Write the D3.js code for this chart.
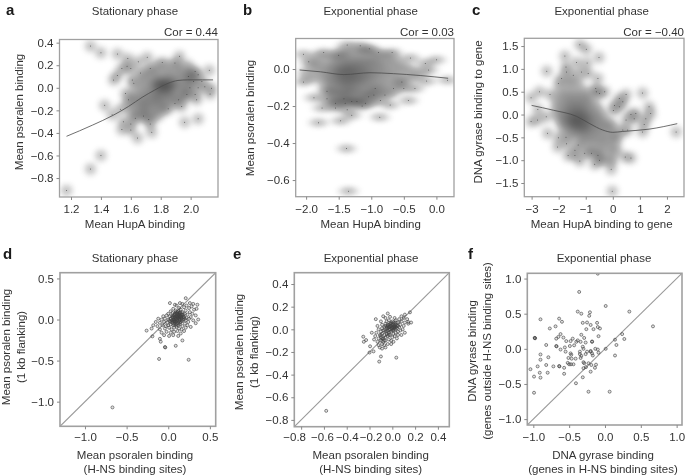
<!DOCTYPE html>
<html lang="en">
<head>
<meta charset="UTF-8">
<title>Psoralen, HupA and gyrase binding</title>
<script src="https://d3js.org/d3.v7.min.js"></script>
<style>
  body { margin: 0; background: #fff; }
  svg { filter: blur(0.3px); }
  text { font-family: "Liberation Sans", Arial, sans-serif; font-size: 11.5px; fill: #333; }
  .letter { font-weight: bold; font-size: 15px; fill: #1a1a1a; }
</style>
</head>
<body>
<svg width="685" height="475"></svg>
<script>
// panel a: sparse points (drawn with a dot) and dense rows [y, xs]
const aOuter = [[1.33,.37],[1.40,.31],[1.51,.30],[1.58,.26],[1.71,.27],[1.925,.28],[2.125,.155],[1.51,.11],[1.485,.07],[1.425,-.155],[1.40,-.60],[1.33,-.72],[1.17,-.91],[1.96,-.305],[2.05,-.275],[1.645,-.445],[1.74,-.395],[1.54,-.37],[1.60,-.375],
  [1.575,.19],[1.54,.17],[1.60,.17],[1.665,.13],[1.61,.07],[1.62,.04],[1.585,-.105],[1.55,-.30],[1.475,-.24],[1.53,-.19],[1.65,.23],[1.73,.17],[1.81,.225],[1.895,.22],[2.03,.145],[2.05,.115],[2.075,.055],[2.095,.01],[2.14,-.005],[2.13,-.055],[2.03,-.06],[1.995,0],[2.04,-.105],[1.895,-.14],[1.85,-.185],[1.94,-.165],[1.63,-.27],[1.685,-.25],[1.72,-.28],[1.73,-.32],[1.60,-.32],[1.565,-.05],[1.985,.10],[2.02,.055],[2.05,0],[1.975,-.06],[1.92,-.105]];
const aRows = [[.2,[1.78,1.85,1.92,1.98]],[.15,[1.72,1.78,1.84,1.9,1.95,2.0]],[.1,[1.68,1.74,1.79,1.84,1.88,1.93,1.98,2.02]],[.05,[1.68,1.73,1.77,1.8,1.83,1.86,1.9,1.94,1.99]],[.03,[1.78,1.81,1.84,1.87]],[0,[1.66,1.72,1.76,1.79,1.81,1.83,1.85,1.88,1.92,1.96]],[-.05,[1.62,1.68,1.72,1.76,1.79,1.82,1.85,1.88,1.93,1.98]],[-.1,[1.62,1.66,1.7,1.74,1.77,1.8,1.84,1.88,1.95]],[-.15,[1.58,1.64,1.68,1.71,1.75,1.79,1.83]],[-.2,[1.6,1.65,1.69,1.73,1.78,1.82]],[-.25,[1.62,1.68,1.74,1.78]]];
const aCurve = [[1.17,-.43],[1.345,-.33],[1.48,-.245],[1.585,-.165],[1.675,-.085],[1.76,-.02],[1.85,.04],[1.915,.065],[1.98,.07],[2.08,.07],[2.15,.07]];
const aTicksX = [1.2,1.4,1.6,1.8,2.0];
const aTicksY = [.4,.2,0,-.2,-.4,-.6,-.8];

// panel b
const bOuter = [[-1.37,.13],[-1.17,.126],[-1.03,.11],[-2.04,.08],[-1.73,.09],[-.68,.09],[-.40,.06],[0,.05],[-.17,.03],[.17,-.06],[-2.04,-.07],[-1.81,-.29],[-1.47,-.28],[-.87,-.26],[-.71,-.195],[-.43,-.17],[-1.38,-.43],[-1.35,-.66],[-1.88,-.155],[-1.755,-.21],[-1.3,-.25],[-.15,-.065],[-.33,-.105],[-.12,-.005],[-1.96,.04],[-.89,.09],[-1.5,.075],
  [-1.68,-.16],[-1.55,-.185],[-1.4,-.185],[-1.3,-.175],[-1.22,-.175],[-1.09,-.185],[-1.04,-.15],[-.86,-.17],[-.79,-.14],[-.66,-.105],[-.53,-.07],[-.5,-.105],[-1.68,-.12],[-1.14,-.2],[-1.55,-.21],[-1.37,-.22],[-.96,-.14],[-1.42,-.16],[-.94,-.105]];
const bRows = [[.1,[-1.45,-1.3,-1.15,-1.05]],[.07,[-1.8,-1.6,-1.45,-1.3,-1.15,-1.0,-.85,-.7]],[.04,[-1.85,-1.65,-1.5,-1.4,-1.3,-1.2,-1.1,-1,-.9,-.75,-.6]],[.01,[-1.9,-1.75,-1.6,-1.5,-1.42,-1.35,-1.28,-1.2,-1.12,-1.02,-.9,-.78,-.6,-.45]],[-.02,[-2,-1.8,-1.65,-1.55,-1.48,-1.42,-1.36,-1.3,-1.24,-1.16,-1.08,-1,-.88,-.75,-.6,-.4,-.25]],[-.05,[-1.95,-1.75,-1.62,-1.52,-1.45,-1.38,-1.32,-1.25,-1.18,-1.1,-1,-.88,-.72,-.55,-.35]],[-.08,[-1.7,-1.58,-1.48,-1.4,-1.33,-1.25,-1.15,-1.05,-.9,-.75,-.55]],[-.11,[-1.65,-1.5,-1.4,-1.3,-1.2,-1.05,-.85]],[-.13,[-1.6,-1.45,-1.32,-1.15,-.95,-.7]],[-.15,[-1.55,-1.4,-1.25,-1.1]],[-.18,[-1.6,-1.48,-1.3,-1.18,-1.0]]];
const bCurve = [[-2.1,-.005],[-1.78,-.015],[-1.42,-.03],[-1.02,-.02],[-.66,-.025],[-.25,-.035],[.18,-.05]];
const bTicksX = [-2,-1.5,-1,-.5,0];
const bTicksY = [0,-.2,-.4,-.6];

// panel c
const cOuter = [[-1.22,1.53],[-.98,1.43],[-1.77,1.28],[-.51,1.25],[-.95,1.13],[-1.34,1.14],[-1.73,1.04],[-2.44,.95],[-.55,.79],[-3.02,.37],[-2.71,.5],[-2.32,.44],[-.3,.5],[-.61,.5],[1.1,.47],[.49,.44],[1.34,.17],[1.4,.02],[.67,0],[-3.02,-.15],[-2.78,-.12],[-2.77,.11],[-2.46,-.05],[-2.41,-.41],[-2.01,-.51],[-2.04,-.71],[-1.73,-.5],[-1.65,-.9],[-1.22,-1.02],[-1.4,-.9],[-.67,-1.09],[-.06,-1.2],[-.02,-1.68],[.46,-.93],[.67,-.95],[1.1,-.38],[2.34,-.38],[1.16,-.22],[.49,-.12],[.02,.09],[.24,.35],[.37,.28],
  [-1.71,.93],[-1.46,.86],[-1.16,.93],[-.91,.9],[-2.01,.68],[-1.89,.79],[-.63,.57],[-.49,.46],[.06,.2],[.24,.17],[.37,-.34],[.55,-.34],[-1.71,-.64],[-1.28,-.67],[-1.4,-.78],[-1.04,-.85],[-.79,-.85],[-.49,-1],[-.55,-.89],[1.22,-.09],[.85,.02],[.79,-.09]];
const cRows = [[.7,[-1.7,-1.5,-1.25]],[.5,[-1.95,-1.7,-1.45,-1.2,-.95]],[.35,[-2.05,-1.8,-1.6,-1.4,-1.2,-1,-.8]],[.2,[-2.1,-1.85,-1.65,-1.5,-1.35,-1.2,-1.05,-.85,-.6]],[.05,[-2.1,-1.85,-1.7,-1.55,-1.42,-1.3,-1.18,-1.05,-.9,-.7,-.45]],[-.08,[-2,-1.78,-1.62,-1.5,-1.4,-1.3,-1.2,-1.1,-.98,-.82,-.62,-.35]],[-.2,[-1.9,-1.7,-1.55,-1.45,-1.35,-1.25,-1.15,-1.02,-.9,-.72,-.5,-.25,-.05]],[-.33,[-1.8,-1.55,-1.4,-1.25,-1.12,-1,-.85,-.65,-.45,-.2,.05]],[-.48,[-1.5,-1.25,-1.05,-.85,-.65,-.42,-.2,.05,.2]],[-.63,[-1.1,-.85,-.6,-.38,-.15,.1]],[-.8,[-.85,-.55,-.3,-.05,.15]],[-1,[-.4,-.15,0]]];
const cCurve = [[-3,.2],[-2.2,.095],[-1.34,-.04],[-.85,-.2],[-.37,-.34],[0,-.39],[.37,-.37],[1.34,-.32],[2.38,-.2]];
const cTicksX = [-3,-2,-1,0,1,2];
const cTicksY = [1.5,1,.5,0,-.5,-1,-1.5];

// panel d
const dPoints = [[-.67,-1.07],[-.11,-.48],[.245,-.49],[-.04,-.335],[-.035,-.34],[.09,-.32],[.17,-.255],[-.26,-.135],[-.19,-.205],[-.1,-.235],[-.09,-.27],[.36,0],[.33,-.045],[.34,.13],[.35,.18],[.30,.19],[.21,.26],[.26,.20],[.14,.2],[.08,.18],
  [.02,.2],[.1,.17],[.17,.19],[.22,.17],[.25,.14],[.31,.12],[.28,.16],[.19,.15],[.13,.14],[.06,.13],[.03,.1],[.09,.11],[.15,.12],[.21,.11],[.26,.09],[.29,.07],[.33,.05],[0,.07],[.05,.08],[.08,.07],[.11,.09],[.14,.08],[.17,.09],[.2,.07],[.23,.06],[.27,.03],[-.06,.04],[-.02,.05],[.02,.04],[.05,.03],[.07,.05],[.09,.04],[.11,.05],[.13,.06],[.15,.04],[.17,.05],[.19,.03],[.22,.02],[.25,.01],[.3,-.01],[-.12,.01],[-.08,0],[-.04,.01],[0,0],[.03,.01],[.06,0],[.08,.02],[.1,.01],[.12,.02],[.14,0],[.16,.01],[.18,0],[.21,-.01],[.24,-.03],[-.15,-.03],[-.1,-.04],[-.05,-.03],[-.01,-.04],[.02,-.02],[.05,-.03],[.07,-.02],[.09,-.03],[.11,-.01],[.13,-.02],[.15,-.03],[.17,-.02],[.2,-.05],[.23,-.07],[-.18,-.07],[-.13,-.08],[-.07,-.07],[-.03,-.08],[0,-.07],[.03,-.06],[.06,-.07],[.08,-.06],[.1,-.05],[.12,-.07],[.14,-.06],[.17,-.08],[.21,-.1],[.27,-.09],[-.2,-.11],[-.1,-.12],[-.04,-.11],[.01,-.1],[.04,-.12],[.07,-.1],[.1,-.09],[.13,-.11],[.16,-.12],[.19,-.14],[-.08,-.16],[-.02,-.15],[.03,-.16],[.07,-.15],[.11,-.14],[.15,-.17],[-.05,-.19],[.01,-.2],[.06,-.19],[.12,-.2],
  [.08,.06],[.1,.07],[.12,.04],[.14,.03],[.06,.02],[.09,0],[.11,.03],[.13,.01],[.15,.06],[.1,-.02],[.12,-.04],[.07,.03],[.16,.03],[.18,.06],[.05,.05],[.04,-.01],[.08,-.04],[.13,.08],[.11,.07],[.09,.09],
  [.1,.04],[.12,.06],[.14,.05],[.09,.02],[.11,0],[.13,.03],[.15,.02],[.07,0],[.08,-.02],[.16,.06],[.12,.1],[.15,.09],[.05,-.01],[.03,-.03],[.06,-.05],[.1,-.07],[.14,-.04],[.16,-.01],[.18,.03],[.2,.01]];
const dTicks = [-1,-.5,0,.5];

// panel e
const ePoints = [[-.58,-.72],[.035,-.25],[-.10,-.24],[-.115,-.285],[-.195,-.15],[-.2,-.205],[-.165,-.195],[-.255,-.065],[-.25,-.11],[-.23,-.095],[-.18,-.03],[-.145,.09],[-.04,.14],[-.08,.115],[.155,.15],[.11,.13],[.08,.115],[.14,.065],[.165,.06],
  [-.06,.1],[-.02,.11],[.02,.1],[.06,.09],[.1,.1],[.13,.09],[-.1,.07],[-.05,.07],[-.03,.08],[0,.07],[.03,.08],[.05,.06],[.08,.07],[.11,.06],[.14,.05],[-.13,.03],[-.09,.04],[-.06,.05],[-.04,.04],[-.02,.05],[0,.04],[.01,.06],[.03,.04],[.05,.03],[.07,.04],[.1,.03],[-.12,0],[-.09,.01],[-.07,.02],[-.05,.01],[-.03,.02],[-.01,.03],[.01,.02],[.02,.03],[.04,.01],[.06,.02],[.09,0],[-.14,-.03],[-.1,-.02],[-.08,-.01],[-.06,-.02],[-.04,-.01],[-.02,0],[0,.01],[.01,-.01],[.03,0],[.05,-.02],[.07,-.01],[.11,-.03],[-.15,-.06],[-.11,-.05],[-.09,-.04],[-.07,-.05],[-.05,-.04],[-.03,-.03],[-.01,-.02],[.01,-.04],[.03,-.03],[.05,-.05],[.08,-.05],[-.16,-.09],[-.12,-.08],[-.1,-.07],[-.08,-.08],[-.06,-.07],[-.04,-.06],[-.02,-.05],[0,-.07],[.02,-.06],[.04,-.08],[-.13,-.11],[-.1,-.1],[-.08,-.11],[-.06,-.1],[-.03,-.09],[-.01,-.1],[.01,-.11],[-.12,-.14],[-.09,-.13],[-.07,-.14],[-.04,-.13],[-.01,-.13],[-.11,-.16],[-.09,-.17],[-.06,-.16],
  [-.02,.03],[-.01,.01],[0,.02],[.01,.04],[-.03,0],[-.04,.03],[.02,.01],[.03,.02],[-.02,.02],[0,-.01],[-.05,.02],[.02,.05],[-.01,.05],
  [-.03,.04],[-.01,.06],[-.04,.01],[.01,0],[.02,.02],[-.06,.03],[-.07,-.01],[-.05,-.02],[-.1,-.05],[-.09,-.08],[-.07,-.1],[-.03,-.05],[.03,.06],[.04,.03]];
const eTicks = [-.8,-.6,-.4,-.2,0,.2,.4];
const eLabelShift = [-7,-2,0,1,0,0,0];

// panel f
const fPoints = [[-.1,1.07],[-.36,.81],[.01,.61],[.34,.53],[.67,.32],[-.38,.53],[-.33,.50],[-.21,.52],[-.22,.47],[-.90,.42],[-.64,.43],[-.60,.385],[-.69,.32],[-.77,.29],[-.31,.37],[-.25,.375],[-.20,.34],[-.11,.37],[-.10,.31],[-.07,.29],[-.16,.28],[-.26,.28],[-.98,.155],[-.98,.155],[-.975,.15],[-.62,.21],[-.65,.17],[-.68,.145],[-.58,.16],[-.48,.11],[-.45,.145],[-.54,.11],[-.38,.12],[-.40,.10],[-.34,.10],[-.33,.20],[-.29,.155],[-.27,.09],[-.09,.18],[-.18,.10],[-.18,.105],[-.82,.055],[-.68,.04],[-.675,.035],[-.62,-.01],[-.56,.02],[-.55,-.04],[-.49,.04],[-.43,.05],[-.31,.03],[-.30,0],[-.35,-.04],[-.25,-.04],[-.20,-.03],[-.135,0],[-.10,-.01],[.01,0],[.14,.13],[.24,.21],[.27,.14],[.16,.055],[.14,-.095],[-.48,-.065],[-.47,-.085],[-.35,-.075],[-.33,-.10],[-.27,-.075],[-.20,-.04],[-.18,-.065],[-.17,-.095],[-.09,-.055],[-.90,-.08],[-.79,-.12],[-.90,-.155],[-.51,-.13],[-.465,-.14],[-.41,-.14],[-.34,-.13],[-.52,-.20],[-.50,-.22],[-.475,-.22],[-.44,-.22],[-.30,-.19],[-.29,-.205],[-.23,-.205],[-.19,-.23],[-.125,-.225],[-.30,-.275],[-.265,-.26],[-.14,-.27],[-.94,-.25],[-.82,-.23],[-.72,-.25],[-.64,-.245],[-.635,-.25],[-.57,-.27],[-1.04,-.29],[-.91,-.34],[-.80,-.34],[-.57,-.355],[-.20,-.325],[-.99,-.395],[-.90,-.41],[-.31,-.405],[-.405,-.49],[-.99,-.625],[-.23,-.61],[.065,-.61]];
const fTicks = [-1,-.5,0,.5,1];

const minus = v => d3.format(".1f")(v).replace("-", "\u2212");
const svg = d3.select("svg");

function frame(o) {
  const x = d3.scaleLinear().domain(o.xd).range([o.l, o.r]);
  const y = d3.scaleLinear().domain(o.yd).range([o.b, o.t]);
  const g = svg.append("g");
  g.append("defs").append("clipPath").attr("id", "clip" + o.id)
    .append("rect").attr("x", o.l).attr("y", o.t).attr("width", o.r - o.l).attr("height", o.b - o.t);
  return { x, y, g };
}

function dress(p, o) {
  const { x, y, g } = p;
  g.append("rect").attr("x", o.l).attr("y", o.t).attr("width", o.r - o.l).attr("height", o.b - o.t)
    .attr("fill", "none").attr("stroke", "#a0a0a0").attr("stroke-width", o.sw || 1.3);
  const xa = g.append("g").attr("transform", `translate(0,${o.b})`)
    .call(d3.axisBottom(x).tickValues(o.xt).tickSize(3).tickPadding(0).tickFormat(o.fmtX || minus));
  xa.select(".domain").remove();
  xa.selectAll("line").attr("stroke", "#888");
  xa.selectAll("text").attr("y", o.xtY - o.b).attr("dy", 0)
    .attr("dx", (d, i) => o.xtShift ? o.xtShift[i] : 0);
  const ya = g.append("g").attr("transform", `translate(${o.l},0)`)
    .call(d3.axisLeft(y).tickValues(o.yt).tickSize(3).tickPadding(3).tickFormat(o.fmtY || minus));
  ya.select(".domain").remove();
  ya.selectAll("line").attr("stroke", "#888");
  svg.append("text").attr("class", "letter").attr("x", o.lx).attr("y", o.ly).text(o.letter);
  svg.append("text").attr("x", o.tx).attr("y", o.ty).attr("text-anchor", "middle").text(o.title);
  o.xlabel.forEach((s, i) => svg.append("text").attr("x", o.xlx).attr("y", o.xly + i * 13.6).attr("text-anchor", "middle").text(s));
  o.ylabel.forEach((s, i) => svg.append("text")
    .attr("transform", `translate(${o.ylx + i * 15},${o.yly}) rotate(-90)`).attr("text-anchor", "middle").text(s));
  if (o.cor) svg.append("text").attr("x", o.r).attr("y", 36).attr("text-anchor", "end").text(o.cor);
}

function density(o, outer, rows, curve) {
  const p = frame(o);
  const core = rows.flatMap(r => r[1].map(v => [v, r[0]]));
  const f = p.g.select("defs").append("filter").attr("id", "blur" + o.id)
    .attr("filterUnits", "userSpaceOnUse").attr("x", o.l - 30).attr("y", o.t - 30)
    .attr("width", o.r - o.l + 60).attr("height", o.b - o.t + 60);
  f.append("feGaussianBlur").attr("stdDeviation", o.blur);
  // lift the faint end and flatten the dark end, the way the smoothed scatter looks
  f.append("feComponentTransfer").append("feFuncA").attr("type", "table").attr("tableValues", o.ramp);
  const clip = p.g.append("g").attr("clip-path", `url(#clip${o.id})`);
  clip.append("g").attr("filter", `url(#blur${o.id})`).selectAll("ellipse")
    .data(outer.concat(core)).join("ellipse")
    .attr("cx", d => p.x(d[0])).attr("cy", d => p.y(d[1]))
    .attr("rx", o.rx).attr("ry", o.ry).attr("fill", "#000").attr("fill-opacity", o.alpha);
  clip.append("g").selectAll("circle").data(outer).join("circle")
    .attr("cx", d => p.x(d[0])).attr("cy", d => p.y(d[1])).attr("r", 0.5).attr("fill", "#333").attr("fill-opacity", .75);
  clip.append("path").datum(curve)
    .attr("d", d3.line().x(d => p.x(d[0])).y(d => p.y(d[1])).curve(d3.curveMonotoneX))
    .attr("fill", "none").attr("stroke", "#4a4a4a").attr("stroke-width", 0.8);
  dress(p, o);
}

function scatter(o, points) {
  const p = frame(o);
  const clip = p.g.append("g").attr("clip-path", `url(#clip${o.id})`);
  clip.append("line").attr("x1", p.x(o.xd[0])).attr("y1", p.y(o.xd[0]))
    .attr("x2", p.x(o.xd[1])).attr("y2", p.y(o.xd[1])).attr("stroke", "#999").attr("stroke-width", 1.1);
  clip.selectAll("circle").data(points).join("circle")
    .attr("cx", d => p.x(d[0])).attr("cy", d => p.y(d[1])).attr("r", 1.5)
    .attr("fill", "#333").attr("fill-opacity", .15)
    .attr("stroke", "#444").attr("stroke-opacity", .7).attr("stroke-width", .9);
  dress(p, o);
}

const ramp = "0 .27 .44 .58 .7 .8";

density({ id: "a", letter: "a", lx: 6, ly: 15, title: "Stationary phase", tx: 135, ty: 15, cor: "Cor = 0.44",
  l: 59.5, r: 218, t: 39.5, b: 197, xd: [1.123, 2.183], yd: [-.968, .428], xt: aTicksX, yt: aTicksY, xtY: 213,
  xlabel: ["Mean HupA binding"], xlx: 135, xly: 228, ylabel: ["Mean psoralen binding"], ylx: 23, yly: 112,
  blur: "3", rx: 5.5, ry: 5.5, alpha: .2, ramp }, aOuter, aRows, aCurve);

density({ id: "b", letter: "b", lx: 243, ly: 15, title: "Exponential phase", tx: 370.7, ty: 15, cor: "Cor = 0.03",
  l: 295.7, r: 454, t: 38.5, b: 196.7, xd: [-2.16, .27], yd: [-.69, .165], xt: bTicksX, yt: bTicksY, xtY: 213,
  xlabel: ["Mean HupA binding"], xlx: 370.7, xly: 228, ylabel: ["Mean psoralen binding"], ylx: 254, yly: 118,
  blur: "4 2.4", rx: 8, ry: 4.4, alpha: .2, ramp }, bOuter, bRows, bCurve);

density({ id: "c", letter: "c", lx: 472, ly: 15, title: "Exponential phase", tx: 601.7, ty: 15, cor: "Cor = \u22120.40",
  l: 524.3, r: 684, t: 38.3, b: 196.7, xd: [-3.27, 2.63], yd: [-1.8, 1.67], xt: cTicksX, yt: cTicksY, xtY: 213,
  fmtX: d => String(d).replace("-", "\u2212"),
  xlabel: ["Mean HupA binding to gene"], xlx: 601.7, xly: 228, ylabel: ["DNA gyrase binding to gene"], ylx: 482, yly: 112,
  blur: "3", rx: 5.5, ry: 5.5, alpha: .2, ramp }, cOuter, cRows, cCurve);

scatter({ id: "d", letter: "d", lx: 3, ly: 259, title: "Stationary phase", tx: 135, ty: 262, sw: 1.6,
  l: 60, r: 215.7, t: 272.7, b: 426.3, xd: [-1.3, .57], yd: [-1.3, .57], xt: dTicks, yt: dTicks, xtY: 441,
  xlabel: ["Mean psoralen binding", "(H-NS binding sites)"], xlx: 135, xly: 459,
  ylabel: ["Mean psoralen binding", "(1 kb flanking)"], ylx: 10, yly: 347 }, dPoints);

scatter({ id: "e", letter: "e", lx: 233, ly: 259, title: "Exponential phase", tx: 371, ty: 262, sw: 1.6,
  l: 294.3, r: 449.3, t: 272.7, b: 426.7, xd: [-.86, .5], yd: [-.86, .5], xt: eTicks, yt: eTicks, xtY: 441, xtShift: eLabelShift,
  xlabel: ["Mean psoralen binding", "(H-NS binding sites)"], xlx: 370.7, xly: 459,
  ylabel: ["Mean psoralen binding", "(1 kb flanking)"], ylx: 243, yly: 352 }, ePoints);

scatter({ id: "f", letter: "f", lx: 468, ly: 259, title: "Exponential phase", tx: 604, ty: 262, sw: 1.6,
  l: 527.3, r: 682, t: 273.3, b: 425, xd: [-1.084, 1.075], yd: [-1.084, 1.075], xt: fTicks, yt: fTicks, xtY: 441,
  xlabel: ["DNA gyrase binding", "(genes in H-NS binding sites)"], xlx: 603, xly: 459,
  ylabel: ["DNA gyrase binding", "(genes outside H-NS binding sites)"], ylx: 476, yly: 351 }, fPoints);
</script>
</body>
</html>
